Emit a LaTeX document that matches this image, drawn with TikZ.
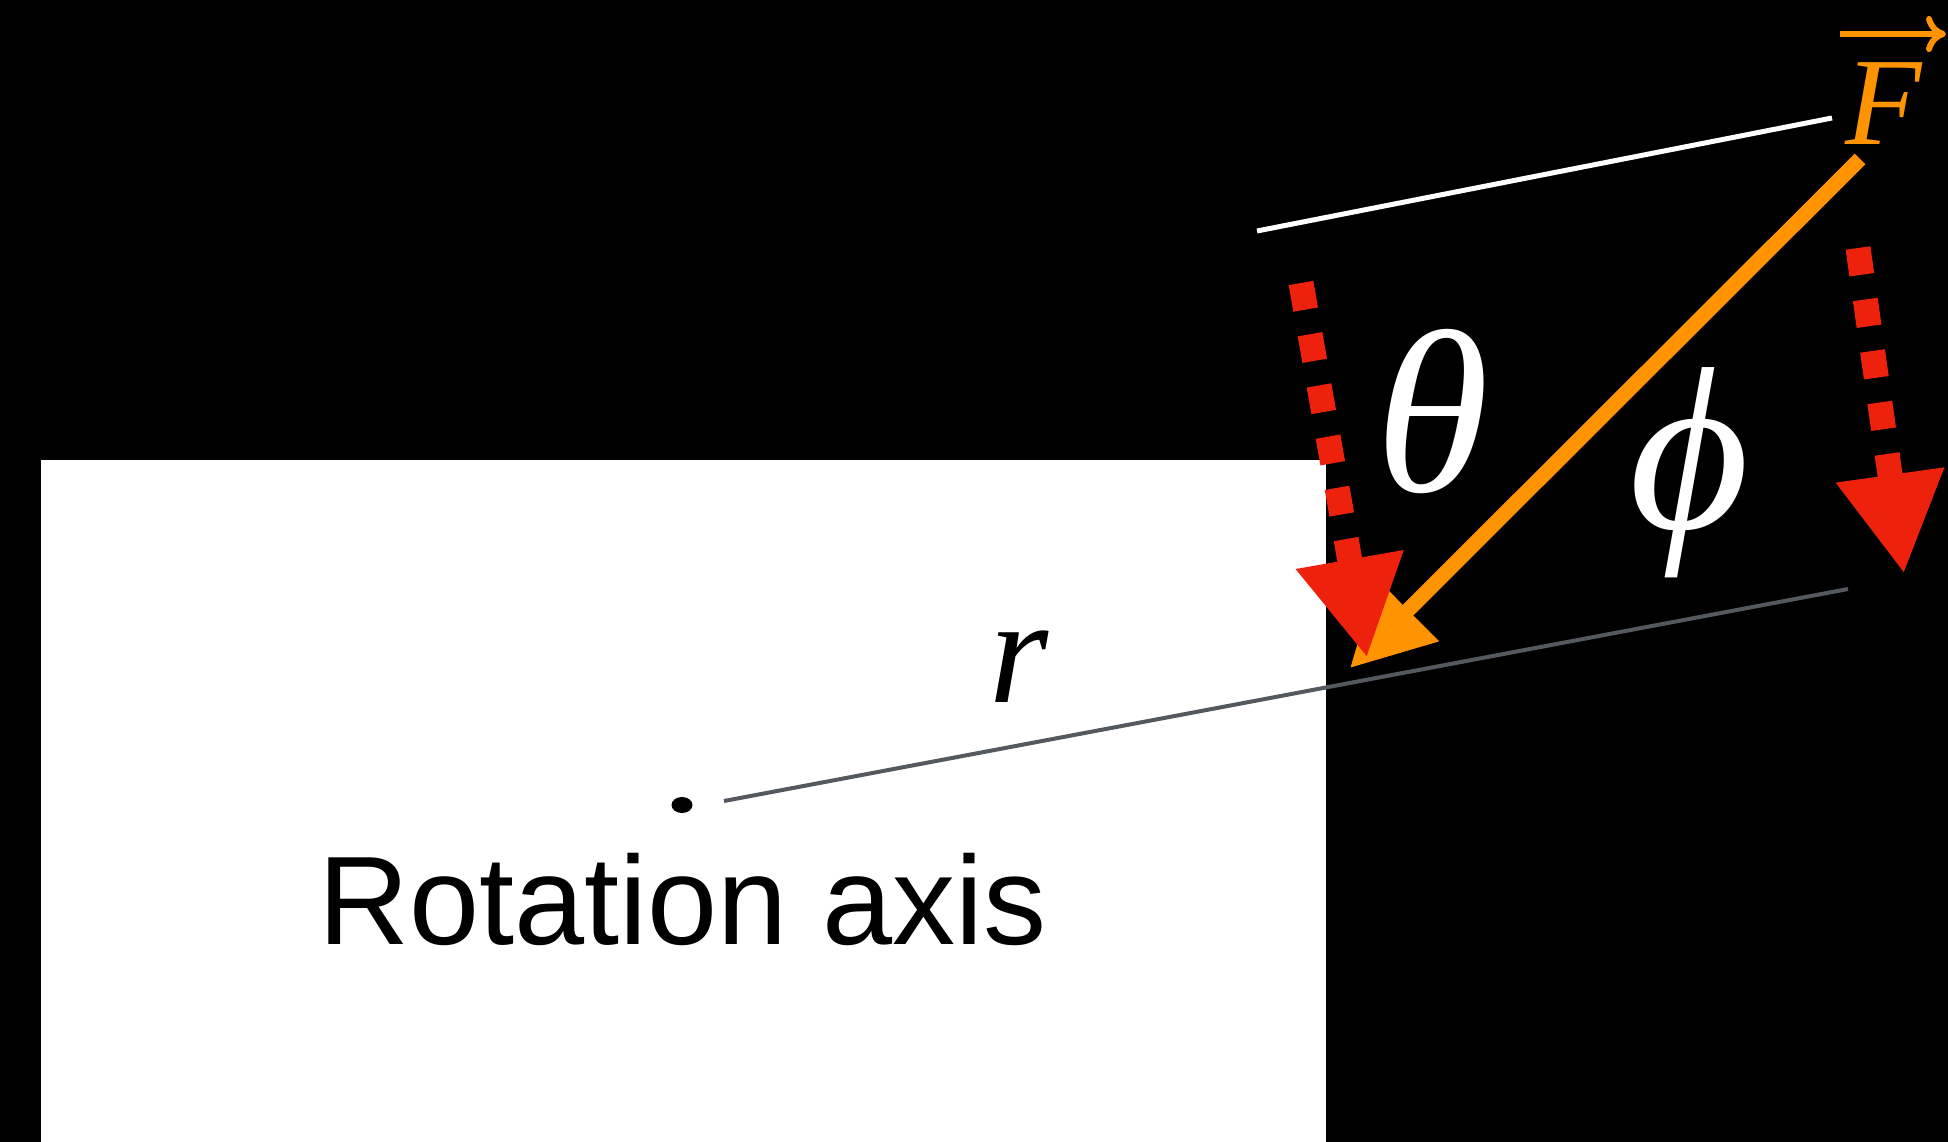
\RequirePackage{fix-cm}
\documentclass[tikz,border=0pt]{standalone}
\usepackage{fontspec}
\setmainfont{Liberation Serif}
\newfontfamily\labelsans{Liberation Sans}
\usetikzlibrary{arrows.meta,shapes.geometric}
\definecolor{forceorange}{RGB}{255,147,0}
\definecolor{compred}{RGB}{238,34,12}
\definecolor{radgray}{RGB}{84,89,95}
\tikzset{
  whiteline/.style={draw=white, line width=5pt},
  forcearrow/.style={draw=forceorange, line width=15pt, -{Triangle[length=82pt,width=84pt]}},
  comparrow/.style={draw=compred, line width=25pt, dash pattern=on 27pt off 25pt, -{Triangle[length=100pt,width=102pt]}},
  radline/.style={draw=radgray, line width=4pt},
  vecaccent/.style={draw=forceorange, line width=6pt, -{To[length=20pt,width=36pt]}},
  greeklabel/.style={text=white, inner sep=0pt, anchor=base, font=\fontsize{232}{232}\selectfont\itshape},
}
\begin{document}
\begin{tikzpicture}[x=1pt,y=-1pt]
\useasboundingbox (0,0) rectangle (1948,1142);
\fill[black] (0,0) rectangle (1948,1142);
\fill[white] (41,460) rectangle (1325.5,1142);
% coordinates
\coordinate (wl1) at (1257,231);
\coordinate (wl2) at (1832,118);
\coordinate (fstart) at (1860,159);
\coordinate (ftip) at (1350,668);
\coordinate (rl1) at (1301,283);
\coordinate (rl2) at (1367,658);
\coordinate (rr1) at (1858,248);
\coordinate (rr2) at (1904,574);
\coordinate (g1) at (724,801);
\coordinate (g2) at (1848,589);
\coordinate (va1) at (1840,34);
\coordinate (va2) at (1946,34);
% lines
\draw[whiteline] (wl1) -- (wl2);
\draw[radline] (g1) -- (g2);
\draw[forcearrow] (fstart) -- (ftip);
\draw[comparrow] (rl1) -- (rl2);
\draw[comparrow] (rr1) -- (rr2);
% dot
\node[ellipse, fill=black, minimum width=21pt, minimum height=16pt, inner sep=0pt] (axisdot) at (682,805) {};
% labels
\node[greeklabel] (theta) at (1432,491) {θ};
\node[greeklabel] (phi) at (1690,528) {ϕ};
\node[inner sep=0pt, anchor=base, font=\fontsize{152}{152}\selectfont\itshape] (rlabel) at (1019,702) {r};
\node[text=forceorange, inner sep=0pt, anchor=base, font=\fontsize{125}{125}\selectfont\itshape] (flabel) at (1884,145) {F};
\draw[vecaccent] (va1) -- (va2);
\node[inner sep=0pt, anchor=base, font=\labelsans\fontsize{126}{126}\selectfont] (axislabel) at (683,944) {Rotation axis};
\end{tikzpicture}
\end{document}
